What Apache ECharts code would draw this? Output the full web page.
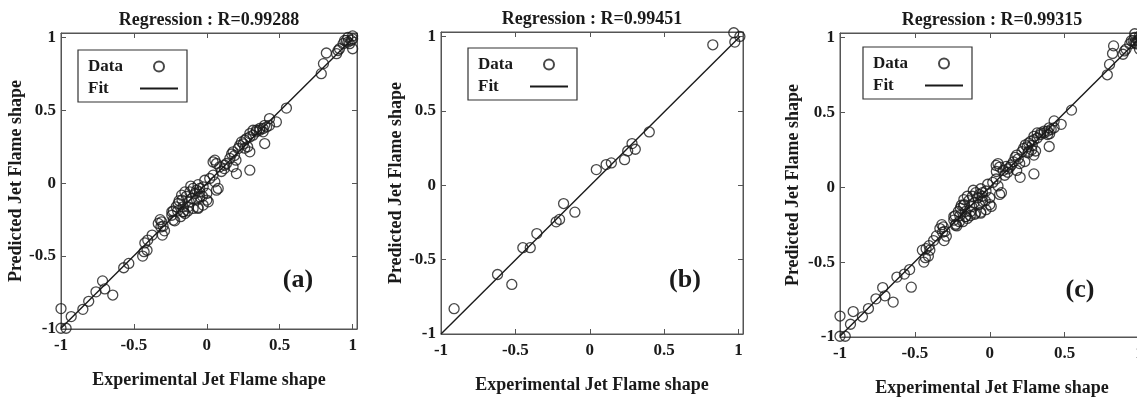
<!DOCTYPE html>
<html>
<head>
<meta charset="utf-8">
<script src="https://cdn.jsdelivr.net/npm/echarts@6/dist/echarts.min.js"></script>
<style>
  html, body { margin: 0; padding: 0; background: #fff; }
  #chart { width: 1137px; height: 397px; }
</style>
</head>
<body>
<div id="chart"></div>
<script>
// panel (a) - experimental vs predicted
const expA = [
  -1.00, -1.00, -0.965, -0.93, -0.85, -0.81, -0.76, -0.715, -0.70, -0.645,
  -0.57, -0.535, -0.44, -0.43, -0.41, -0.425, -0.405, -0.375, -0.333, -0.31,
  -0.315, -0.305, -0.29, -0.32, -0.30, -0.24, -0.23, -0.22, -0.24, -0.23,
  -0.196, -0.21, -0.17, -0.163, -0.15, -0.173, -0.16, -0.15, -0.116, -0.094,
  -0.07, -0.048, -0.025, -0.105, -0.07, -0.048, 0.0, 0.01, -0.128, -0.094,
  -0.06, -0.025, 0.078, -0.014, 0.02, 0.043, 0.055, -0.19, -0.14, -0.12,
  -0.08, -0.05, -0.03, -0.11, -0.06, 0.0, -0.20, -0.18, -0.13, -0.163,
  -0.06, 0.066,
  0.043, 0.055, 0.066, 0.089, 0.123, 0.135, 0.18, 0.203, 0.158, 0.17,
  0.18, 0.19, 0.20, 0.215, 0.226, 0.238, 0.26, 0.272, 0.295, 0.317,
  0.295, 0.295, 0.34, 0.363, 0.386, 0.397, 0.397, 0.25, 0.26, 0.10,
  0.12, 0.28,
  0.43, 0.477, 0.43, 0.41, 0.386, 0.363, 0.34, 0.317, 0.295, 0.546,
  0.785, 0.80, 0.82, 0.89, 0.91, 0.935, 0.957, 0.968, 1.0, 1.0,
  0.945, 0.968, 0.979, 0.99, 0.90, 1.0
];
const predA = [
  -0.86, -0.995, -0.995, -0.915, -0.865, -0.81, -0.745, -0.67, -0.725, -0.767,
  -0.58, -0.55, -0.50, -0.47, -0.46, -0.41, -0.39, -0.356, -0.276, -0.265,
  -0.30, -0.356, -0.327, -0.25, -0.295, -0.22, -0.19, -0.258, -0.196, -0.253,
  -0.139, -0.162, -0.116, -0.162, -0.208, -0.082, -0.196, -0.06, -0.06, -0.036,
  -0.048, -0.036, -0.025, -0.105, -0.116, -0.094, -0.116, -0.128, -0.162, -0.173,
  -0.173, -0.15, -0.036, 0.02, 0.032, 0.055, 0.009, -0.12, -0.09, -0.13,
  -0.07, -0.06, -0.09, -0.02, -0.01, -0.07, -0.19, -0.23, -0.19, -0.196,
  -0.166, -0.048,
  0.146, 0.158, 0.135, 0.112, 0.123, 0.135, 0.112, 0.066, 0.17, 0.20,
  0.215, 0.19, 0.158, 0.238, 0.26, 0.283, 0.295, 0.306, 0.317, 0.329,
  0.215, 0.089, 0.363, 0.375, 0.352, 0.397, 0.272, 0.27, 0.24, 0.08,
  0.10, 0.25,
  0.443, 0.42, 0.397, 0.386, 0.375, 0.363, 0.352, 0.363, 0.34, 0.515,
  0.751, 0.82, 0.893, 0.888, 0.922, 0.957, 0.979, 1.0, 1.01, 0.922,
  0.979, 0.968, 0.957, 0.979, 0.91, 0.99
];

// panel (b)
const expB = [
  -0.912, -0.62, -0.524, -0.45, -0.40, -0.356, -0.226, -0.203, -0.176, -0.10,
  0.044, 0.11, 0.145, 0.234, 0.255, 0.284, 0.306, 0.40, 0.827, 0.968,
  0.975, 1.009
];
const predB = [
  -0.83, -0.60, -0.667, -0.42, -0.42, -0.325, -0.246, -0.23, -0.123, -0.181,
  0.105, 0.139, 0.15, 0.172, 0.23, 0.28, 0.242, 0.358, 0.944, 1.025,
  0.962, 1.0
];

// panel (c) shows every point of (a) and (b) together
const expC = expA.concat(expB);
const predC = predA.concat(predB);

// fitted lines, end points
const fitXA = [-1, 1.0];
const fitYA = [-0.995, 0.993];
const fitXB = [-1, 1.01];
const fitYB = [-1, 1.0];
const fitXC = [-1, 1.0];
const fitYC = [-0.995, 0.995];

const titles = ['Regression : R=0.99288', 'Regression : R=0.99451', 'Regression : R=0.99315'];
const tags = ['(a)', '(b)', '(c)'];
const xName = 'Experimental Jet Flame shape';
const yName = 'Predicted Jet Flame shape';

const font = 'Liberation Serif';
const ink = '#1a1a1a';
const frame = '#555';

const pairs = (xs, ys) => xs.map((x, i) => [x, ys[i]]);

const grids = [
  { left: 61, right: 780, top: 33, bottom: 68 },
  { left: 441, right: 394, top: 32, bottom: 63 },
  { left: 840, right: -7, top: 33, bottom: 60 }
];
const yNameGap = [36, 34, 38];
const legendPos = [[78, 50], [468, 48], [863, 47]];
const tagPos = [[298, 280], [685, 280], [1080, 290]];

const panels = [
  { exp: expA, pred: predA, fx: fitXA, fy: fitYA },
  { exp: expB, pred: predB, fx: fitXB, fy: fitYB },
  { exp: expC, pred: predC, fx: fitXC, fy: fitYC }
];

const txt = { fontFamily: font, fontWeight: 'bold', fontSize: 17, color: ink };
const bigTxt = Object.assign({}, txt, { fontSize: 18 });

const xAxis = [], yAxis = [], series = [], legend = [], graphic = [];

panels.forEach((p, i) => {
  const base = {
    type: 'value', gridIndex: i, min: -1, max: 1.03, interval: 0.5,
    splitLine: { show: false },
    axisLine: { show: true, onZero: false, lineStyle: { color: frame, width: 1 } },
    axisTick: { show: true, inside: true, length: 5, lineStyle: { color: frame } }
  };
  // bottom / left: labels + names
  xAxis.push(Object.assign({}, base, {
    position: 'bottom',
    name: xName, nameLocation: 'middle', nameGap: 42, nameTextStyle: bigTxt,
    axisLabel: Object.assign({ margin: 8, showMaxLabel: false }, txt)
  }));
  yAxis.push(Object.assign({}, base, {
    position: 'left',
    name: yName, nameLocation: 'middle', nameGap: yNameGap[i], nameTextStyle: bigTxt,
    axisLabel: Object.assign({ margin: 5, showMaxLabel: false }, txt)
  }));
  // top / right: mirrored ticks, title on the top one
  xAxis.push(Object.assign({}, base, {
    position: 'top',
    name: titles[i], nameLocation: 'middle', nameGap: 4, nameTextStyle: bigTxt,
    axisLabel: { show: false }
  }));
  yAxis.push(Object.assign({}, base, {
    position: 'right',
    axisLabel: { show: false }
  }));

  series.push({
    name: 'Data', type: 'scatter', xAxisIndex: i * 2, yAxisIndex: i * 2,
    symbol: 'circle', symbolSize: 10,
    itemStyle: { color: 'rgba(0,0,0,0)', borderColor: ink, borderWidth: 1.3 },
    data: pairs(p.exp, p.pred)
  });
  series.push({
    name: 'Fit', type: 'line', xAxisIndex: i * 2, yAxisIndex: i * 2,
    symbol: 'none', lineStyle: { color: ink, width: 1.4 },
    itemStyle: { color: 'rgba(0,0,0,0)', borderWidth: 0 },
    data: pairs(p.fx, p.fy), z: 3
  });

  legend.push({
    orient: 'vertical', left: legendPos[i][0], top: legendPos[i][1],
    align: 'right', data: ['Data', 'Fit'], selectedMode: false,
    itemWidth: 38, itemHeight: 10, itemGap: 5,
    padding: [8, 8, 5, 10], borderColor: '#333', borderWidth: 1.2,
    itemStyle: { borderWidth: 2 },
    lineStyle: { width: 2 },
    formatter: '{n|{name}}',
    textStyle: Object.assign({ rich: { n: Object.assign({ width: 47, align: 'left' }, txt) } }, txt)
  });

  graphic.push({
    type: 'text', x: tagPos[i][0], y: tagPos[i][1],
    style: {
      text: tags[i], fontFamily: font, fontWeight: 'bold', fontSize: 26,
      fill: ink, textAlign: 'center', textVerticalAlign: 'middle'
    }
  });
});

const chart = echarts.init(document.getElementById('chart'));
chart.setOption({
  animation: false,
  backgroundColor: '#fff',
  grid: grids.map(g => Object.assign({ show: true, borderColor: frame, borderWidth: 1, outerBoundsMode: 'none' }, g)),
  xAxis, yAxis, series, legend, graphic
});
</script>
</body>
</html>
